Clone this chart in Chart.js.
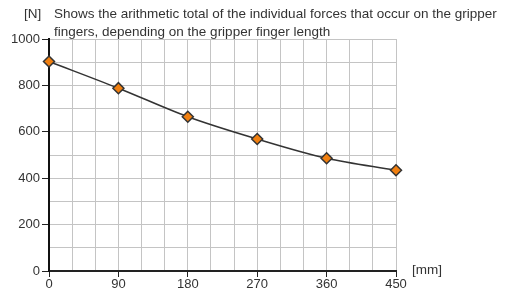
<!DOCTYPE html>
<html>
<head>
<meta charset="utf-8">
<script src="https://cdn.jsdelivr.net/npm/chart.js@4"></script>
<style>
  html, body { margin: 0; padding: 0; background: #fff; }
  #wrap { position: relative; width: 512px; height: 288px; overflow: hidden; }
  canvas { position: absolute; left: 0; top: 0; }
  .txt { position: absolute; font-family: "Liberation Sans", Arial, sans-serif; font-size: 13.5px; color: #333; white-space: nowrap; line-height: 18px; }
</style>
</head>
<body>
<div id="wrap">
  <canvas id="forceChart" width="512" height="288"></canvas>
  <div class="txt" style="left:24px; top:5px;">[N]</div>
  <div class="txt" style="left:54px; top:5px;">Shows the arithmetic total of the individual forces that occur on the gripper<br>fingers, depending on the gripper finger length</div>
  <div class="txt" style="left:412px; top:261px;">[mm]</div>
</div>
<script>
// finger length [mm] and total force [N]
const fingerLength = [0, 90, 180, 270, 360, 450];
const totalForce = [903, 788, 665, 569, 486, 434];
const xLabelStep = 90;
const yLabelStep = 200;

const ctx = document.getElementById('forceChart').getContext('2d');
const forceChart = new Chart(ctx, {
    type: 'line',
    data: {
        datasets: [{
            label: 'Total force',
            data: fingerLength.map((x, i) => ({ x: x, y: totalForce[i] })),
            borderColor: '#333333',
            borderWidth: 1.5,
            cubicInterpolationMode: 'monotone',
            pointStyle: 'rectRot',
            pointRadius: 5.5,
            pointBackgroundColor: '#f07f10',
            pointBorderColor: '#333333',
            pointBorderWidth: 1.5,
            clip: false
        }]
    },
    options: {
        responsive: false,
        animation: false,
        events: [],
        layout: { padding: { left: 0, top: 39, right: 116, bottom: 0 } },
        plugins: { legend: { display: false }, tooltip: { enabled: false } },
        scales: {
            x: {
                type: 'linear',
                min: 0,
                max: 450,
                afterFit: s => { s.height = 17; },
                ticks: {
                    stepSize: 30,
                    autoSkip: false,
                    maxRotation: 0,
                    padding: 0,
                    color: '#333',
                    font: { family: 'Liberation Sans', size: 13 },
                    callback: v => (v % xLabelStep === 0 ? v : '')
                },
                grid: {
                    color: '#c4c4c4',
                    lineWidth: 1,
                    tickLength: 6,
                    tickColor: c => (c.tick && c.tick.value % xLabelStep === 0 ? '#222' : 'rgba(0,0,0,0)')
                },
                border: { color: '#222', width: 2 }
            },
            y: {
                min: 0,
                max: 1000,
                afterFit: s => { s.width = 49; },
                ticks: {
                    stepSize: 100,
                    padding: 2,
                    color: '#333',
                    font: { family: 'Liberation Sans', size: 13 },
                    callback: v => (v % yLabelStep === 0 ? v : '')
                },
                grid: {
                    color: '#c4c4c4',
                    lineWidth: 1,
                    tickLength: 7,
                    tickColor: c => (c.tick && c.tick.value % yLabelStep === 0 ? '#222' : 'rgba(0,0,0,0)')
                },
                border: { color: '#111', width: 2 }
            }
        }
    }
});
</script>
</body>
</html>
